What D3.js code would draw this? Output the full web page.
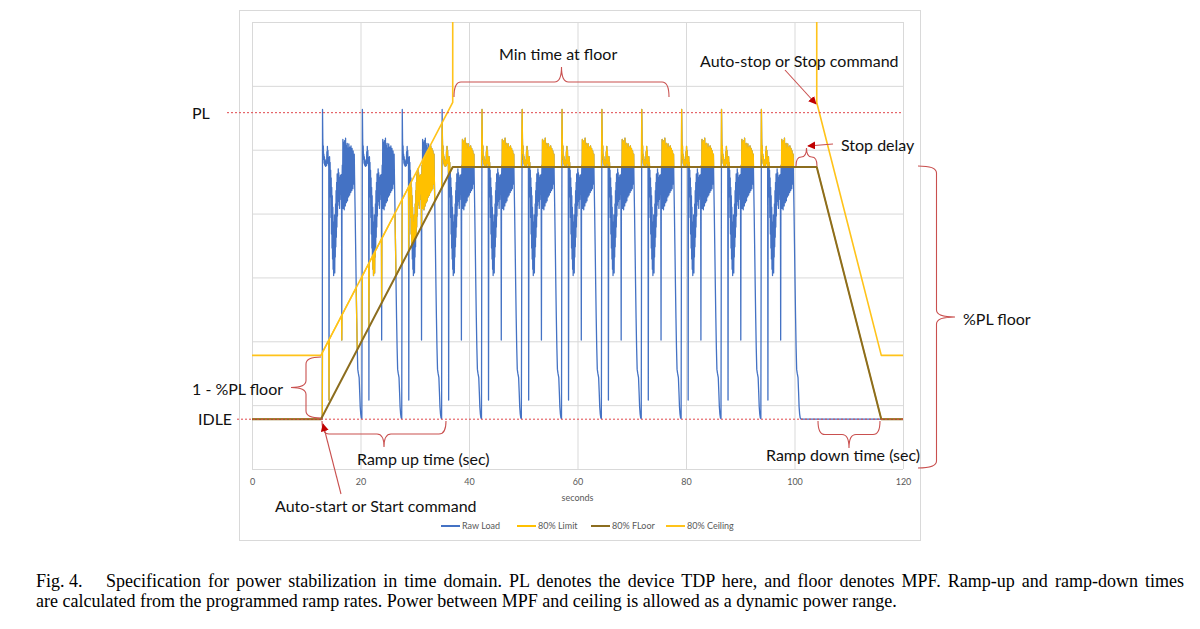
<!DOCTYPE html>
<html>
<head>
<meta charset="utf-8">
<script src="https://cdn.jsdelivr.net/npm/d3@7"></script>
<style>
  body { margin: 0; background: #fff; }
  svg { display: block; }
  .ann { font-family: Lato, "Open Sans", sans-serif; font-size: 16px; fill: #111; }
  .small { font-family: Lato, "Open Sans", sans-serif; font-size: 9px; fill: #595959; }
  .caption { font-family: "Liberation Serif", "DejaVu Serif", serif; font-size: 18px; fill: #000; }
</style>
</head>
<body>
<svg id="powerChart"></svg>
<script>
// ---- data ----
// x axis ticks (seconds)
const xTicks = [0, 20, 40, 60, 80, 100, 120];
// horizontal gridlines (power units, axis labels hidden in the figure)
const yTicks = [0, 10, 20, 30, 40, 50, 60, 70];
// reference levels
const idleLevel = 7.8;
const plLevel = 55.8;

// 80% Floor breakpoints
const floorTimes = [0, 12.7, 37.0, 104.1, 116.0, 120];
const floorValues = [7.8, 7.8, 47.3, 47.3, 7.8, 7.8];

// 80% Ceiling: it leaves the top of the chart between 37 s and 104.1 s
const ceilingUpTimes = [0, 12.7, 37.0, 37.0];
const ceilingUpValues = [17.8, 17.8, 57.4, 80];
const ceilingDownTimes = [104.1, 104.1, 116.0, 120];
const ceilingDownValues = [80, 57.4, 17.8, 17.8];

// Raw load: the workload loop repeats, each loop starts with the spike to PL
const loopStarts = [13.0, 20.35, 27.7, 35.05, 42.4, 49.8, 57.15, 64.5, 71.85, 79.2, 86.55, 93.9];
// one loop of the raw trace: [seconds after the spike, value]
const rawLoop = [
  [0.00, 56.3], [0.05, 51.8], [0.10, 49.4], [0.15, 50.6], [0.20, 48.5], [0.25, 49.3],
  [0.30, 47.9], [0.35, 48.9], [0.40, 47.6], [0.50, 48.4], [0.55, 47.4], [0.65, 48.1],
  [0.75, 47.5], [0.80, 49.7], [0.85, 47.9], [0.90, 50.5], [0.95, 48.6], [1.00, 49.9],
  [1.05, 47.8], [1.10, 48.8], [1.15, 47.2], [1.20, 10.8], [1.25, 46.6], [1.30, 48.9],
  [1.35, 45.2], [1.40, 48.0], [1.45, 42.6], [1.50, 46.8], [1.55, 39.4], [1.60, 45.6],
  [1.65, 36.8], [1.70, 44.1], [1.75, 34.6], [1.80, 42.8], [1.85, 32.9], [1.90, 41.0],
  [1.95, 31.3], [2.00, 38.7], [2.05, 30.3], [2.10, 37.4], [2.15, 31.6], [2.20, 39.8],
  [2.25, 30.7], [2.30, 38.1], [2.35, 33.2], [2.40, 41.5], [2.45, 34.8], [2.50, 43.6],
  [2.55, 36.3], [2.60, 44.9], [2.65, 37.9], [2.70, 46.2], [2.75, 39.6], [2.80, 45.1],
  [2.85, 41.3], [2.90, 47.0], [2.95, 42.7], [3.00, 46.4], [3.05, 41.9], [3.10, 45.7],
  [3.15, 40.8], [3.20, 44.6], [3.25, 42.2], [3.30, 46.0], [3.35, 43.1], [3.40, 45.3],
  [3.45, 44.0], [3.50, 46.1], [3.55, 20.2], [3.60, 45.0], [3.65, 47.6], [3.70, 42.1],
  [3.75, 51.6], [3.80, 40.8], [3.85, 51.2], [3.90, 41.4], [3.95, 50.6], [4.00, 40.6],
  [4.05, 51.4], [4.10, 41.9], [4.15, 50.1], [4.20, 41.2], [4.25, 51.8], [4.30, 42.3],
  [4.35, 50.7], [4.40, 41.7], [4.45, 49.8], [4.50, 42.8], [4.55, 51.0], [4.60, 42.0],
  [4.65, 50.3], [4.70, 43.2], [4.75, 49.5], [4.80, 42.6], [4.85, 50.9], [4.90, 43.5],
  [4.95, 49.9], [5.00, 42.9], [5.05, 50.4], [5.10, 43.8], [5.15, 49.2], [5.20, 43.3],
  [5.25, 50.6], [5.30, 44.1], [5.35, 49.6], [5.40, 43.6], [5.45, 50.2], [5.50, 44.4],
  [5.55, 49.0], [5.60, 43.9], [5.65, 49.8], [5.70, 44.6], [5.75, 48.8], [5.80, 45.2],
  [5.85, 49.3], [5.90, 46.0], [6.00, 41.0], [6.10, 35.2], [6.20, 29.1], [6.30, 23.6],
  [6.40, 18.9], [6.50, 15.6], [6.60, 15.0], [6.75, 14.3], [6.85, 12.1], [6.95, 9.7],
  [7.05, 8.6], [7.15, 8.0], [7.25, 7.9]
];
// raw load sits at idle before the first loop and after the last one
const idleBeforeTimes = [0, 12.7, 12.95];
const idleAfterTimes = [101.2, 104.1, 116.0, 120];

// legend entries
const legendNames = ["Raw Load", "80% Limit", "80% FLoor", "80% Ceiling"];
const legendColors = ["#4472C4", "#FFC000", "#8C6D1F", "#FFC31A"];

// caption lines
const captionHead = "Fig. 4.";
const captionLine1 = "Specification for power stabilization in time domain. PL denotes the device TDP here, and floor denotes MPF. Ramp-up and ramp-down times";
const captionLine2 = "are calculated from the programmed ramp rates. Power between MPF and ceiling is allowed as a dynamic power range.";

// ---- layout ----
const widthSVG = 1200;
const heightSVG = 629;
const plot = { left: 252, right: 903, top: 22, bottom: 469 };
const annColor = "#C9504F";
const arrowColor = "#C00000";

const SVG = d3.select("svg#powerChart")
  .attr("width", widthSVG)
  .attr("height", heightSVG);

// scales
const x = d3.scaleLinear().domain([0, 120]).range([plot.left, plot.right]);
const y = d3.scaleLinear().domain([0, 70]).range([plot.bottom, plot.top]);

// chart area frame
SVG.append("rect")
  .attr("x", 239.5).attr("y", 10.5)
  .attr("width", 681).attr("height", 530)
  .style("fill", "none").style("stroke", "#d9d9d9");

// gridlines
const gridX = SVG.append("g")
  .attr("transform", `translate(0, ${plot.bottom})`)
  .call(d3.axisBottom(x).tickValues(xTicks).tickSize(-(plot.bottom - plot.top)).tickFormat(""));
const gridY = SVG.append("g")
  .attr("transform", `translate(${plot.left}, 0)`)
  .call(d3.axisLeft(y).tickValues(yTicks).tickSize(-(plot.right - plot.left)).tickFormat(""));
[gridX, gridY].forEach(g => {
  g.select(".domain").remove();
  g.selectAll("line").style("stroke", "#d9d9d9").style("stroke-width", 1);
});

// tick labels
const axisX = SVG.append("g")
  .attr("transform", `translate(0, ${plot.bottom})`)
  .call(d3.axisBottom(x).tickValues(xTicks).tickSize(0).tickPadding(10));
axisX.select(".domain").remove();
axisX.selectAll("text").attr("class", "small").attr("font-family", null).attr("font-size", null);

SVG.append("text")
  .attr("class", "small")
  .attr("x", x(60)).attr("y", 501)
  .style("text-anchor", "middle")
  .text("seconds");

// ---- series ----
const floorAt = d3.scaleLinear().domain(floorTimes).range(floorValues);
const ceilUp = d3.scaleLinear().domain(ceilingUpTimes.slice(0, 3)).range(ceilingUpValues.slice(0, 3));
const ceilDown = d3.scaleLinear().domain(ceilingDownTimes.slice(1)).range(ceilingDownValues.slice(1));
function ceilingAt(t) {
  if (t <= ceilingUpTimes[2]) return ceilUp(t);
  if (t >= ceilingDownTimes[1]) return ceilDown(t);
  return Infinity;
}

// raw load = idle, then the loop at each start, then idle again
let rawLoad = idleBeforeTimes.map(t => [t, idleLevel]);
loopStarts.forEach(s => {
  rawLoad = rawLoad.concat(rawLoop.map(d => [s + d[0], d[1]]));
});
rawLoad = rawLoad.concat(idleAfterTimes.map(t => [t, idleLevel]));

// 80% Limit: raw load held between floor and ceiling
const limitLoad = rawLoad.map(d => [d[0], Math.min(Math.max(d[1], floorAt(d[0])), ceilingAt(d[0]))]);

const floorLine = floorTimes.map((t, i) => [t, floorValues[i]]);
const ceilingLine = ceilingUpTimes.map((t, i) => [t, ceilingUpValues[i]])
  .concat([null])
  .concat(ceilingDownTimes.map((t, i) => [t, ceilingDownValues[i]]));

SVG.append("clipPath").attr("id", "plotClip")
  .append("rect")
  .attr("x", plot.left).attr("y", plot.top)
  .attr("width", plot.right - plot.left).attr("height", plot.bottom - plot.top);

const lineGen = d3.line()
  .defined(d => d !== null)
  .x(d => x(d[0]))
  .y(d => y(d[1]));

const seriesG = SVG.append("g").attr("clip-path", "url(#plotClip)");

const seriesList = [
  { data: rawLoad, color: legendColors[0], w: 1.3 },
  { data: limitLoad, color: legendColors[1], w: 1.3 },
  { data: floorLine, color: legendColors[2], w: 2 },
  { data: ceilingLine, color: legendColors[3], w: 1.6 }
];
seriesG.selectAll("path.series")
  .data(seriesList)
  .enter()
  .append("path")
  .attr("class", "series")
  .attr("d", d => lineGen(d.data))
  .style("fill", "none")
  .style("stroke", d => d.color)
  .style("stroke-width", d => d.w)
  .style("stroke-linejoin", "round");

// dotted PL and IDLE reference lines
SVG.append("line")
  .attr("x1", 227).attr("x2", x(120))
  .attr("y1", y(plLevel)).attr("y2", y(plLevel))
  .style("stroke", "#E0474C").style("stroke-width", 1).style("stroke-dasharray", "2,2");
SVG.append("line")
  .attr("x1", 237).attr("x2", x(120))
  .attr("y1", y(idleLevel)).attr("y2", y(idleLevel))
  .style("stroke", "#E0474C").style("stroke-width", 1).style("stroke-dasharray", "2,2");

// ---- legend ----
const legendX = [441, 517, 591, 666];
const legendG = SVG.append("g").attr("class", "legend");
legendNames.forEach((name, i) => {
  legendG.append("line")
    .attr("x1", legendX[i]).attr("x2", legendX[i] + 19)
    .attr("y1", 526).attr("y2", 526)
    .style("stroke", legendColors[i]).style("stroke-width", 2);
  legendG.append("text")
    .attr("class", "small")
    .attr("x", legendX[i] + 21).attr("y", 529)
    .text(name);
});

// ---- annotations ----
const annG = SVG.append("g");

SVG.append("defs").append("marker")
  .attr("id", "arrow")
  .attr("viewBox", "0 0 10 10")
  .attr("refX", 9).attr("refY", 5)
  .attr("markerWidth", 8).attr("markerHeight", 8)
  .attr("markerUnits", "userSpaceOnUse")
  .attr("orient", "auto")
  .append("path")
  .attr("d", "M0,0 L10,5 L0,10 Z")
  .style("fill", arrowColor);

// curly brace between two points, depth = offset of the tip
function brace(x1, y1, x2, y2, depth) {
  const L = Math.hypot(x2 - x1, y2 - y1);
  const ang = Math.atan2(y2 - y1, x2 - x1) * 180 / Math.PI;
  const h = depth / 2;
  const r = Math.min(7, L / 4);
  const m = L / 2;
  const p = `M0,0 Q0,${h} ${r},${h} L${m - r},${h} Q${m},${h} ${m},${depth} ` +
            `Q${m},${h} ${m + r},${h} L${L - r},${h} Q${L},${h} ${L},0`;
  annG.append("path")
    .attr("d", p)
    .attr("transform", `translate(${x1},${y1}) rotate(${ang})`)
    .style("fill", "none")
    .style("stroke", annColor)
    .style("stroke-width", 1.1);
}

function arrow(x1, y1, x2, y2) {
  annG.append("line")
    .attr("x1", x1).attr("y1", y1).attr("x2", x2).attr("y2", y2)
    .style("stroke", annColor).style("stroke-width", 1.1)
    .attr("marker-end", "url(#arrow)");
}

function label(txt, lx, ly) {
  annG.append("text").attr("class", "ann").attr("x", lx).attr("y", ly).text(txt);
}

brace(454, 97, 669, 97, -30);
brace(321, 357, 321, 418, 30);
brace(322, 421, 446, 421, 26);
brace(818, 421, 880, 421, 27);
brace(796, 166, 817, 166, -18);
brace(918, 166, 918, 468, -37);

arrow(341, 494, 323, 424);
arrow(785, 70, 816, 104);
arrow(833, 144, 808, 146);

label("PL", 192, 119);
label("IDLE", 198, 425);
label("1 - %PL floor", 192, 395);
label("Min time at floor", 499, 60);
label("Auto-stop or Stop command", 700, 67);
label("Stop delay", 841, 151);
label("%PL floor", 963, 325);
label("Ramp up time (sec)", 357, 465);
label("Ramp down time (sec)", 766, 461);
label("Auto-start or Start command", 275, 512);

// ---- caption, first line justified by word spacing ----
SVG.append("text").attr("class", "caption").attr("x", 36).attr("y", 587).text(captionHead);
const cap1 = SVG.append("text").attr("class", "caption").attr("x", 106).attr("y", 587).text(captionLine1);
const natural = cap1.node().getComputedTextLength();
const gaps = captionLine1.split(" ").length - 1;
const extra = (1184 - 106 - natural) / gaps;
cap1.style("word-spacing", `${extra}px`);
SVG.append("text").attr("class", "caption").attr("x", 36).attr("y", 607).text(captionLine2);
</script>
</body>
</html>
